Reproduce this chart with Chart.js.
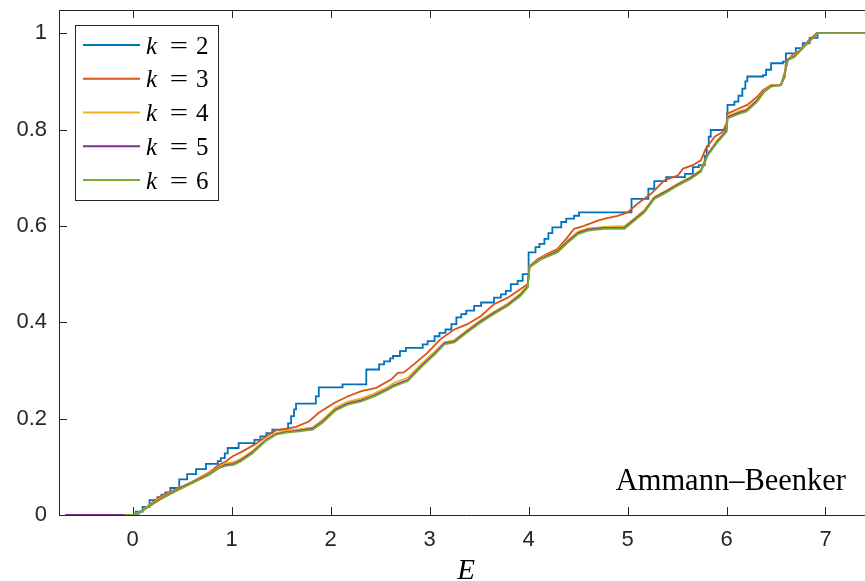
<!DOCTYPE html>
<html>
<head>
<meta charset="utf-8">
<script src="https://cdn.jsdelivr.net/npm/chart.js@4/dist/chart.umd.min.js"></script>
<style>
  html, body { margin: 0; padding: 0; background: #fff; overflow: hidden; }
  #wrap { position: relative; width: 874px; height: 581px; }
</style>
</head>
<body>
<div id="wrap"><canvas id="c" width="874" height="581"></canvas></div>
<script>
// Integrated density of states N(E) of the Ammann–Beenker tiling, approximants k = 2..6
const kValues = [2, 3, 4, 5, 6];
const seriesColors = ['#0072BD', '#D95319', '#EDB120', '#7E2F8E', '#77AC30'];
const xTicks = [0, 1, 2, 3, 4, 5, 6, 7];
const yTicks = [0, 0.2, 0.4, 0.6, 0.8, 1];
const tilingName = 'Ammann–Beenker';
const xTitle = 'E';

// k = 2 : staircase, each pair is [E at the jump, N after the jump]
const idosK2 = [[-0.68,0],[0.03,0.007],[0.10,0.017],[0.17,0.031],[0.25,0.037],[0.29,0.042],[0.33,0.047],[0.38,0.056],
  [0.47,0.074],[0.55,0.085],[0.64,0.095],[0.74,0.106],[0.86,0.112],[0.89,0.118],[0.93,0.128],[0.96,0.139],[1.07,0.149],
  [1.23,0.156],[1.29,0.163],[1.35,0.170],[1.41,0.177],[1.57,0.190],[1.60,0.205],[1.63,0.219],[1.65,0.231],[1.85,0.246],
  [1.88,0.265],[2.12,0.271],[2.36,0.302],[2.49,0.3125],[2.54,0.319],[2.60,0.325],[2.63,0.330],[2.70,0.340],[2.76,0.347],
  [2.93,0.354],[2.98,0.361],[3.05,0.371],[3.10,0.378],[3.16,0.385],[3.22,0.396],[3.27,0.410],[3.32,0.417],[3.37,0.424],
  [3.45,0.434],[3.52,0.441],[3.65,0.451],[3.72,0.458],[3.77,0.465],[3.82,0.479],[3.89,0.486],[3.94,0.500],[4.00,0.545],
  [4.07,0.556],[4.11,0.5625],[4.16,0.573],[4.20,0.585],[4.24,0.597],[4.33,0.608],[4.38,0.615],[4.46,0.621],[4.51,0.628],
  [5.04,0.656],[5.21,0.677],[5.27,0.693],[5.39,0.701],[5.58,0.708],[5.66,0.722],[5.72,0.726],[5.78,0.745],[5.80,0.765],
  [5.82,0.785],[5.84,0.799],[5.99,0.807],[6.005,0.833],[6.01,0.851],[6.08,0.858],[6.12,0.870],[6.16,0.885],[6.19,0.900],
  [6.21,0.910],[6.37,0.913],[6.40,0.924],[6.45,0.9375],[6.57,0.941],[6.60,0.958],[6.70,0.969],[6.77,0.979],[6.84,0.990],
  [6.92,1.000],[7.60,1.000]];

const idosK3 = [[-0.68,0],[0,0],[0.06,0.003],[0.27,0.038],[0.43,0.053],[0.60,0.069],[0.77,0.088],[0.87,0.104],[0.94,0.111],
  [1.01,0.122],[1.11,0.132],[1.23,0.146],[1.34,0.162],[1.45,0.176],[1.55,0.179],[1.65,0.183],[1.78,0.194],[1.88,0.212],
  [2.04,0.233],[2.17,0.246],[2.31,0.257],[2.46,0.264],[2.61,0.281],[2.68,0.295],[2.74,0.296],[2.84,0.3125],[2.98,0.337],
  [3.11,0.365],[3.25,0.385],[3.38,0.396],[3.52,0.413],[3.65,0.4375],[3.79,0.451],[3.92,0.469],[3.99,0.479],[4.01,0.517],
  [4.09,0.531],[4.19,0.542],[4.29,0.552],[4.38,0.573],[4.46,0.594],[4.56,0.600],[4.70,0.611],[4.77,0.615],[4.90,0.621],
  [5.00,0.628],[5.10,0.646],[5.24,0.667],[5.37,0.694],[5.51,0.705],[5.56,0.719],[5.66,0.726],[5.74,0.736],[5.79,0.760],
  [5.88,0.785],[5.96,0.795],[6.00,0.8125],[6.01,0.833],[6.13,0.844],[6.21,0.851],[6.31,0.868],[6.37,0.882],[6.45,0.892],
  [6.55,0.892],[6.59,0.910],[6.60,0.941],[6.67,0.955],[6.75,0.965],[6.82,0.983],[6.91,1.000],[7.60,1.000]];

const idosK4 = [[-0.68,0],[0,0],[0.05,0.004],[0.27,0.034],[0.43,0.051],[0.60,0.068],[0.77,0.086],[0.87,0.100],[0.94,0.107],
  [1.02,0.110],[1.09,0.116],[1.21,0.133],[1.34,0.156],[1.45,0.170],[1.55,0.175],[1.68,0.178],[1.82,0.182],[1.92,0.198],
  [2.05,0.223],[2.17,0.235],[2.31,0.242],[2.44,0.252],[2.58,0.266],[2.64,0.274],[2.78,0.285],[2.91,0.312],[3.05,0.339],
  [3.15,0.359],[3.25,0.363],[3.38,0.384],[3.52,0.405],[3.65,0.422],[3.79,0.439],[3.92,0.460],[3.99,0.476],[4.01,0.517],
  [4.13,0.534],[4.29,0.549],[4.40,0.571],[4.50,0.588],[4.60,0.595],[4.77,0.598],[4.97,0.600],[5.07,0.616],[5.17,0.633],
  [5.27,0.660],[5.37,0.671],[5.51,0.688],[5.64,0.702],[5.74,0.716],[5.81,0.750],[5.91,0.778],[6.00,0.799],[6.01,0.828],
  [6.13,0.838],[6.20,0.842],[6.31,0.862],[6.38,0.881],[6.45,0.891],[6.55,0.893],[6.59,0.920],[6.62,0.946],[6.69,0.954],
  [6.77,0.971],[6.84,0.985],[6.92,1.000],[7.60,1.000]];

const idosK5 = [[-0.68,0],[0,0],[0.05,0.003],[0.27,0.032],[0.43,0.050],[0.60,0.067],[0.77,0.084],[0.87,0.098],[0.94,0.104],
  [1.02,0.106],[1.09,0.113],[1.21,0.130],[1.34,0.154],[1.45,0.168],[1.55,0.172],[1.68,0.175],[1.82,0.179],[1.92,0.194],
  [2.05,0.219],[2.17,0.231],[2.31,0.238],[2.44,0.248],[2.58,0.262],[2.64,0.269],[2.78,0.280],[2.91,0.308],[3.05,0.335],
  [3.15,0.356],[3.25,0.360],[3.38,0.381],[3.52,0.402],[3.65,0.419],[3.79,0.436],[3.92,0.457],[3.99,0.474],[4.01,0.515],
  [4.13,0.532],[4.29,0.547],[4.40,0.568],[4.50,0.585],[4.60,0.592],[4.77,0.596],[4.97,0.596],[5.07,0.613],[5.17,0.630],
  [5.27,0.658],[5.37,0.669],[5.51,0.686],[5.64,0.700],[5.74,0.714],[5.81,0.748],[5.91,0.776],[6.00,0.797],[6.01,0.825],
  [6.13,0.835],[6.20,0.839],[6.31,0.860],[6.38,0.879],[6.45,0.890],[6.55,0.892],[6.59,0.918],[6.62,0.945],[6.69,0.952],
  [6.77,0.970],[6.84,0.984],[6.92,1.000],[7.60,1.000]];

const idosK6 = [[-0.08,0],[0,0],[0.05,0.003],[0.27,0.031],[0.43,0.049],[0.60,0.066],[0.77,0.083],[0.87,0.097],[0.94,0.102],
  [1.02,0.104],[1.09,0.111],[1.21,0.128],[1.34,0.153],[1.45,0.167],[1.55,0.171],[1.68,0.1735],[1.82,0.177],[1.92,0.192],
  [2.05,0.217],[2.17,0.229],[2.31,0.236],[2.44,0.246],[2.58,0.260],[2.64,0.267],[2.78,0.278],[2.91,0.306],[3.05,0.333],
  [3.15,0.354],[3.25,0.358],[3.38,0.379],[3.52,0.400],[3.65,0.417],[3.79,0.434],[3.92,0.455],[3.99,0.472],[4.01,0.514],
  [4.13,0.531],[4.29,0.545],[4.40,0.566],[4.50,0.583],[4.60,0.590],[4.77,0.594],[4.97,0.594],[5.07,0.611],[5.17,0.628],
  [5.27,0.656],[5.37,0.667],[5.51,0.684],[5.64,0.698],[5.74,0.712],[5.81,0.746],[5.91,0.774],[6.00,0.795],[6.01,0.823],
  [6.13,0.833],[6.20,0.837],[6.31,0.858],[6.38,0.878],[6.45,0.889],[6.55,0.892],[6.59,0.917],[6.62,0.944],[6.69,0.951],
  [6.77,0.969],[6.84,0.983],[6.92,1.000],[7.60,1.000]];

const seriesData = [idosK2, idosK3, idosK4, idosK5, idosK6];

const AXIS_COLOR = '#262626';
const TICK_FONT = { family: 'Liberation Sans, Arial, sans-serif', size: 22 };
const SERIF = '"Liberation Serif", "Times New Roman", serif';

// Inward ticks on all four sides plus the top/right frame lines
const boxPlugin = {
  id: 'box',
  beforeDatasetsDraw(chart) {
    const { ctx, chartArea: a, scales } = chart;
    const len = 8;
    ctx.save();
    ctx.strokeStyle = AXIS_COLOR;
    ctx.lineWidth = 1;
    ctx.beginPath();
    ctx.moveTo(a.left, a.top + 0.5); ctx.lineTo(a.right, a.top + 0.5);
    ctx.moveTo(a.right - 0.5, a.top); ctx.lineTo(a.right - 0.5, a.bottom);
    xTicks.forEach(v => {
      const px = Math.round(scales.x.getPixelForValue(v)) + 0.5;
      ctx.moveTo(px, a.bottom); ctx.lineTo(px, a.bottom - len);
      ctx.moveTo(px, a.top); ctx.lineTo(px, a.top + len);
    });
    yTicks.forEach(v => {
      const py = Math.round(scales.y.getPixelForValue(v)) + 0.5;
      ctx.moveTo(a.left, py); ctx.lineTo(a.left + len, py);
      ctx.moveTo(a.right, py); ctx.lineTo(a.right - len, py);
    });
    ctx.stroke();
    ctx.restore();
  },
  afterDraw(chart) {
    const { ctx, chartArea: a } = chart;
    ctx.save();
    // legend box
    const lx = 75, ly = 25, lw = 143, lh = 175, rowH = 33.75, firstRow = 45;
    ctx.fillStyle = '#fff';
    ctx.fillRect(lx, ly, lw, lh);
    ctx.strokeStyle = AXIS_COLOR;
    ctx.lineWidth = 1;
    ctx.strokeRect(lx + 0.5, ly + 0.5, lw, lh);
    kValues.forEach((k, i) => {
      const y = firstRow + i * rowH;
      ctx.strokeStyle = seriesColors[i];
      ctx.lineWidth = 1.8;
      ctx.beginPath();
      ctx.moveTo(lx + 8, y); ctx.lineTo(lx + 65, y);
      ctx.stroke();
      ctx.fillStyle = '#000';
      ctx.textBaseline = 'alphabetic';
      ctx.textAlign = 'left';
      ctx.font = 'italic 25px ' + SERIF;
      ctx.fillText('k', lx + 71, y + 8.5);
      ctx.font = '25px ' + SERIF;
      ctx.textAlign = 'center';
      ctx.save();
      ctx.translate(lx + 104, y + 8.5);
      ctx.scale(1.3, 1);
      ctx.fillText('=', 0, 0);
      ctx.restore();
      ctx.textAlign = 'left';
      ctx.fillText(String(k), lx + 121, y + 8.5);
    });
    // tiling name
    ctx.fillStyle = '#000';
    ctx.font = '30.5px ' + SERIF;
    ctx.textAlign = 'right';
    ctx.fillText(tilingName, 846, 490);
    // axis title
    ctx.font = 'italic 29px ' + SERIF;
    ctx.textAlign = 'center';
    ctx.fillText(xTitle, (a.left + a.right) / 2, 579);
    ctx.restore();
  }
};

new Chart(document.getElementById('c'), {
  type: 'line',
  data: {
    datasets: seriesData.map((pts, i) => ({
      label: 'k = ' + kValues[i],
      data: pts.map(p => ({ x: p[0], y: p[1] })),
      borderColor: seriesColors[i],
      backgroundColor: seriesColors[i],
      borderWidth: 1.8,
      pointRadius: 0,
      tension: 0,
      fill: false,
      stepped: i === 0 ? 'before' : false,
      order: kValues.length - 1 - i
    }))
  },
  options: {
    responsive: false,
    animation: false,
    devicePixelRatio: 1,
    layout: { padding: { top: 10, right: 1, left: 0, bottom: 0 } },
    plugins: { legend: { display: false }, tooltip: { enabled: false } },
    scales: {
      x: {
        type: 'linear',
        min: -0.745,
        max: 7.48,
        grid: { display: false, drawTicks: false },
        border: { display: true, color: AXIS_COLOR, width: 1 },
        afterBuildTicks: s => { s.ticks = xTicks.map(v => ({ value: v })); },
        afterFit: s => { s.height = 66; s.paddingLeft = 0; s.paddingRight = 0; },
        ticks: { color: AXIS_COLOR, font: TICK_FONT, padding: 12, maxRotation: 0, autoSkip: false,
                 callback: v => String(v) }
      },
      y: {
        type: 'linear',
        min: 0,
        max: 1.048,
        grid: { display: false, drawTicks: false },
        border: { display: true, color: AXIS_COLOR, width: 1 },
        afterBuildTicks: s => { s.ticks = yTicks.map(v => ({ value: v })); },
        afterFit: s => { s.width = 59; s.paddingTop = 0; s.paddingBottom = 0; },
        ticks: { color: AXIS_COLOR, font: TICK_FONT, padding: 12, autoSkip: false,
                 callback: v => String(v) }
      }
    }
  },
  plugins: [boxPlugin]
});
</script>
</body>
</html>
